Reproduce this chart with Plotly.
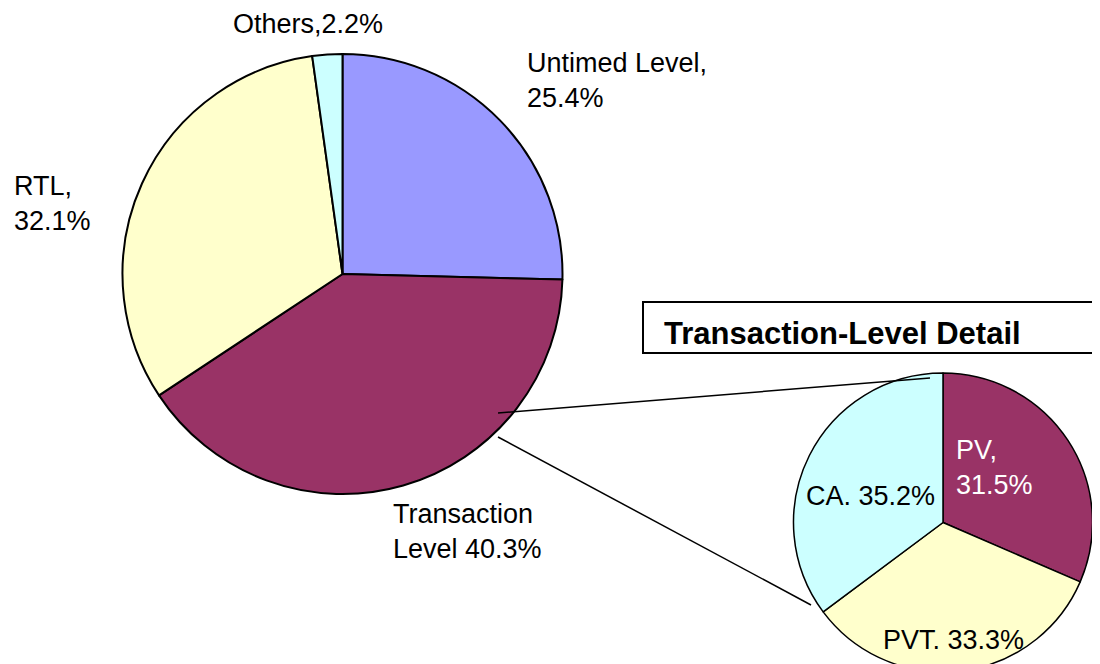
import plotly.graph_objects as go

W, H = 1100, 664
OFF = 8  # marge par défaut du <body> de la page

# main pie
main_labels = ["Untimed Level", "Transaction Level", "RTL", "Others"]
main_values = [25.4, 40.3, 32.1, 2.2]
main_colors = ["#9999FF", "#993366", "#FFFFCC", "#CCFFFF"]
main_texts = ["Untimed Level,<br>25.4%", "Transaction<br>Level 40.3%",
              "RTL,<br>32.1%", "Others,2.2%"]

# detail pie (transaction level breakdown)
detail_labels = ["PV", "PVT", "CA"]
detail_values = [31.5, 33.3, 35.2]
detail_colors = ["#993366", "#FFFFCC", "#CCFFFF"]
detail_texts = ["PV,<br>31.5%", "PVT. 33.3%", "CA. 35.2%"]

FONT = "Arial, Liberation Sans, sans-serif"


def px(x, y):
    """pixels de la fenêtre (origine en haut à gauche) -> coordonnées paper"""
    return (x - OFF) / W, 1 - (y - OFF) / H


def dom(cx, cy, r):
    """domaine d'un camembert à partir du centre et du rayon en pixels"""
    cx, cy = cx - OFF, cy - OFF
    return dict(x=[(cx - r) / W, (cx + r) / W],
                y=[max(0, 1 - (cy + r) / H), 1 - (cy - r) / H])


fig = go.Figure()

fig.add_trace(go.Pie(
    labels=main_labels, values=main_values, sort=False, direction="clockwise",
    rotation=0, textinfo="none", hoverinfo="label+percent",
    marker=dict(colors=main_colors, line=dict(color="black", width=2)),
    domain=dom(342.5, 274, 220),
))

fig.add_trace(go.Pie(
    labels=detail_labels, values=detail_values, sort=False, direction="clockwise",
    rotation=0, textinfo="none", hoverinfo="label+percent",
    marker=dict(colors=detail_colors, line=dict(color="black", width=1.5)),
    domain=dom(943, 523, 150),
))

# étiquettes (position en pixels, ancrage)
label_pos = [
    (main_texts[0], 525, 80, "left", "black"),
    (main_texts[1], 391, 531, "left", "black"),
    (main_texts[2], 12, 203, "left", "black"),
    (main_texts[3], 308, 24, "center", "black"),
    (detail_texts[0], 954, 468, "left", "white"),
    (detail_texts[1], 953, 640, "center", "black"),
    (detail_texts[2], 870, 496, "center", "black"),
]
for txt, x, y, anchor, col in label_pos:
    ax, ay = px(x, y)
    fig.add_annotation(
        x=ax, y=ay, xref="paper", yref="paper", text=txt, showarrow=False,
        xanchor=anchor, yanchor="middle", align="left",
        font=dict(family=FONT, size=27, color=col),
    )

# encadré du titre du détail
bx0, by0 = px(643, 302)
bx1, by1 = px(1112, 353)
fig.add_shape(type="rect", xref="paper", yref="paper", x0=bx0, y0=by0, x1=bx1, y1=by1,
              line=dict(color="black", width=2), fillcolor="white")
tx, ty = px(662, 333)
fig.add_annotation(
    x=tx, y=ty, xref="paper", yref="paper", text="<b>Transaction-Level Detail</b>",
    showarrow=False, xanchor="left", yanchor="middle",
    font=dict(family=FONT, size=31, color="black"),
)

# lignes de liaison entre les deux camemberts
for (x0, y0), (x1, y1) in [((498, 413), (930, 378)), ((498, 437), (811, 605))]:
    a0, b0 = px(x0, y0)
    a1, b1 = px(x1, y1)
    fig.add_shape(type="line", xref="paper", yref="paper", x0=a0, y0=b0, x1=a1, y1=b1,
                  line=dict(color="black", width=1.5))

fig.update_layout(
    width=W, height=H, margin=dict(l=0, r=0, t=0, b=0),
    showlegend=False, paper_bgcolor="white", plot_bgcolor="white",
    font=dict(family=FONT),
)

fig.write_html("out.html")
